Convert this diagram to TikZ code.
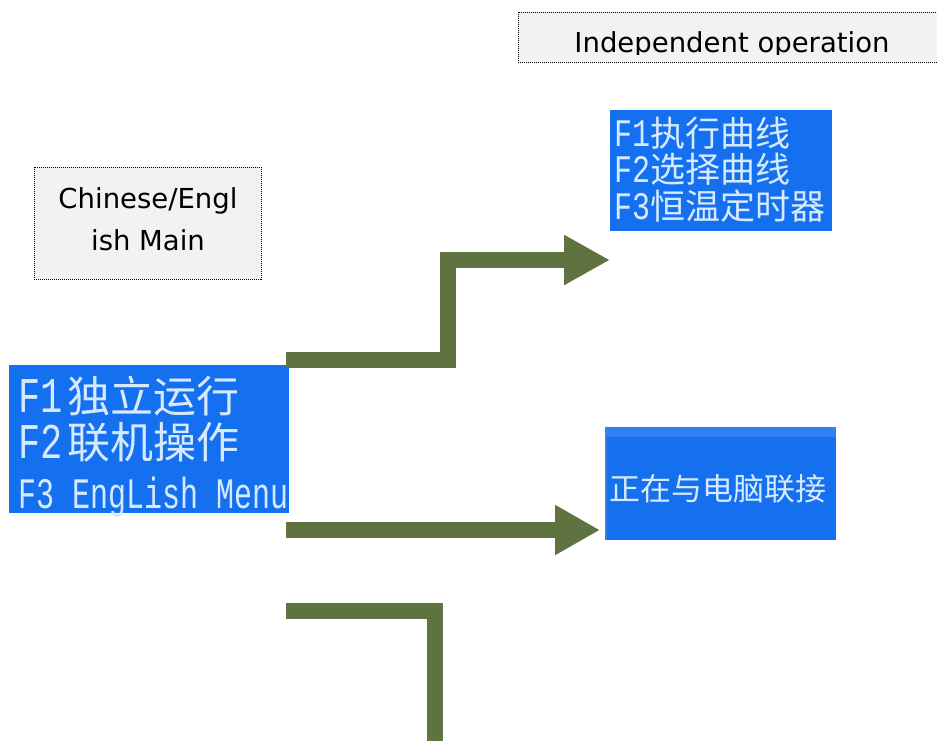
\documentclass[tikz,border=0pt]{standalone}
\usepackage{fontspec}
\setmainfont{DejaVu Sans}
\newfontfamily\cjk{Noto Sans CJK SC}
\newfontfamily\monof{Liberation Mono}
\usetikzlibrary{arrows.meta}
\definecolor{scrblue}{HTML}{1570F0}
\definecolor{scrtext}{HTML}{D6EAFF}
\definecolor{arrgreen}{HTML}{5E7340}
\definecolor{boxgray}{HTML}{F2F2F2}
\tikzset{
  labelbox/.style={draw=black, densely dotted, line width=1pt, fill=boxgray},
  labeltext/.style={inner sep=0pt, anchor=base, font=\fontsize{27.5}{30}\selectfont},
  screen/.style={draw=none, fill=scrblue, inner sep=0pt},
  scrline/.style={anchor=base west, inner sep=0pt, text=scrtext},
  bigarrow/.style={draw=arrgreen, line width=16pt, line join=miter, line cap=butt},
  bigtip/.style={-{Triangle[length=46pt,width=47pt]}}
}
\begin{document}
\begin{tikzpicture}[x=1pt,y=-1pt]
\useasboundingbox (0,0) rectangle (937,740);
\fill[white] (0,0) rectangle (937,740);
% top label box
\draw[labelbox] (518,12) rectangle (945,62);
\begin{scope}
\clip (518,12) rectangle (945,54);
\node[labeltext] (indep) at (732,52) {Independent operation};
\end{scope}
% left label box
\draw[labelbox] (34,167) rectangle (261,279);
\node[labeltext] (cnen1) at (148,208) {Chinese/Engl};
\node[labeltext] (cnen2) at (148,250) {ish Main};
% main menu screen
\fill[screen] (9,365) rectangle (289,513);
\node[scrline] (m1) at (18,412) {\monof\scalebox{1}[1.35]{\fontsize{37}{37}\selectfont F1}\hspace{5pt}\cjk\fontsize{43}{43}\selectfont 独立运行};
\node[scrline] (m2) at (18,458) {\monof\scalebox{1}[1.35]{\fontsize{37}{37}\selectfont F2}\hspace{5pt}\cjk\fontsize{43}{43}\selectfont 联机操作};
\node[scrline] (m3) at (18,508) {\monof\fontsize{30}{30}\selectfont\scalebox{1}[1.45]{F3 EngLish Menu}};
% independent operation screen
\fill[screen] (610,110) rectangle (832,231);
\node[scrline] (i1) at (614,146) {\monof\scalebox{1}[1.3]{\fontsize{30}{30}\selectfont F1}\cjk\fontsize{35}{35}\selectfont 执行曲线};
\node[scrline] (i2) at (614,182) {\monof\scalebox{1}[1.3]{\fontsize{30}{30}\selectfont F2}\cjk\fontsize{35}{35}\selectfont 选择曲线};
\node[scrline] (i3) at (614,219) {\monof\scalebox{1}[1.3]{\fontsize{30}{30}\selectfont F3}\cjk\fontsize{35}{35}\selectfont 恒温定时器};
% PC link screen
\fill[scrblue!88!white] (605,427) rectangle (836,540);
\fill[screen] (607,437) rectangle (836,540);
\node[scrline] (c1) at (609,500) {\cjk\fontsize{31}{31}\selectfont 正在与电脑联接};
% arrows
\coordinate (a1s) at (286,359.5);
\coordinate (a1e) at (610,260);
\coordinate (a2s) at (286,530);
\coordinate (a2e) at (600,530);
\coordinate (a3s) at (286,611);
\coordinate (a3e) at (435,750);
\draw[bigarrow,bigtip] (a1s) -| (448,260) -- (a1e);
\draw[bigarrow,-{Triangle[length=45pt,width=47pt]}] (a2s) -- (a2e);
\draw[bigarrow] (a3s) -| (a3e);
\end{tikzpicture}
\end{document}
